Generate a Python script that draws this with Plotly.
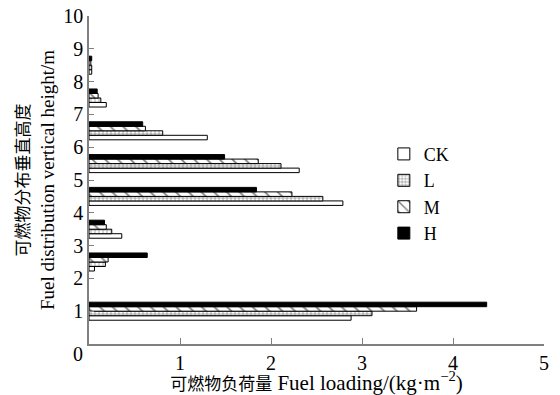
import plotly.graph_objects as go

heights = [1.0, 2.5, 3.5, 4.5, 5.5, 6.5, 7.5, 8.5]
ck = [2.88, 0.06, 0.36, 2.79, 2.31, 1.30, 0.19, 0.03]
l_vals = [3.11, 0.18, 0.25, 2.57, 2.11, 0.81, 0.13, 0.03]
m_vals = [3.60, 0.21, 0.19, 2.23, 1.86, 0.62, 0.10, 0.02]
h_vals = [4.37, 0.64, 0.17, 1.84, 1.49, 0.59, 0.09, 0.03]
series_names = ["CK", "L", "M", "H"]
x_ticks = [1, 2, 3, 4, 5]
y_ticks = [1, 2, 3, 4, 5, 6, 7, 8, 9, 10]
origin_label = "0"

FONT = "Liberation Serif, Times New Roman, Noto Sans CJK SC, serif"
AX = "#808080"

styles = [
    dict(color="white", pattern=None),
    dict(color="white", pattern=dict(shape="+", fgcolor="black", bgcolor="white", size=4, solidity=0.3)),
    dict(color="white", pattern=dict(shape="\\", fgcolor="black", bgcolor="white", size=9, solidity=0.2)),
    dict(color="black", pattern=None),
]

fig = go.Figure()
for name, vals, st in zip(series_names, [ck, l_vals, m_vals, h_vals], styles):
    marker = dict(color=st["color"], line=dict(color="black", width=1))
    if st["pattern"]:
        marker["pattern"] = st["pattern"]
    fig.add_trace(go.Bar(x=vals, y=heights, orientation="h", name=name, marker=marker))

# page body has an 8px default margin, so the figure is sized to fit inside the window
fig.update_layout(
    width=552, height=387,
    margin=dict(l=81, r=16, t=8, b=51),
    paper_bgcolor="white", plot_bgcolor="white",
    barmode="group", bargap=0.45, bargroupgap=0,
    font=dict(family=FONT, size=20, color="black"),
    legend=dict(x=0.648, y=0.635, xanchor="left", yanchor="top", traceorder="normal",
                bgcolor="rgba(0,0,0,0)", font=dict(size=18), itemwidth=30, tracegroupgap=0),
    showlegend=True,
)
fig.add_annotation(x=0, y=0, xref="x", yref="y", text=origin_label, showarrow=False,
                   xshift=-11, yshift=-10, font=dict(size=20))
fig.update_xaxes(
    range=[0, 5], tickvals=x_ticks, ticktext=[str(v) for v in x_ticks], automargin=False,
    ticklabeloverflow="allow",
    showline=True, linecolor=AX, linewidth=1.5, ticks="inside", ticklen=6, tickcolor=AX,
    showgrid=False, zeroline=False,
    title=dict(text="<span style='font-size:17px'>可燃物负荷量</span> Fuel loading/(kg·m<sup>−2</sup>)",
               standoff=5, font=dict(size=21)),
)
fig.update_yaxes(
    range=[0, 10], tickvals=y_ticks, ticktext=[str(v) for v in y_ticks], automargin=False,
    ticklabeloverflow="allow",
    showline=True, linecolor=AX, linewidth=1.5, ticks="inside", ticklen=5, tickcolor=AX,
    showgrid=False, zeroline=False,
    title=dict(text="<span style='font-size:17px'>可燃物分布垂直高度</span><br>Fuel distribution vertical height/m",
               standoff=4, font=dict(size=19)),
)
fig.write_html("out.html")
